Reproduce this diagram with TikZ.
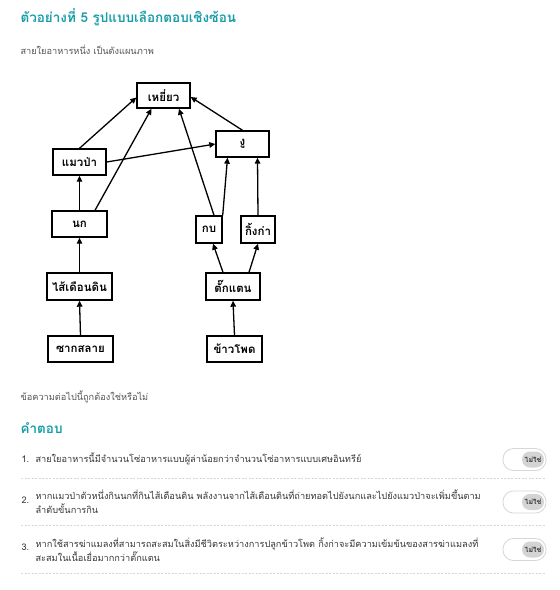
\documentclass[tikz,border=0pt]{standalone}
\usepackage{fontspec}
\setmainfont[Script=Thai]{Loma}
\usetikzlibrary{calc,arrows.meta}
\definecolor{tealhead}{RGB}{24,158,168}
\definecolor{bodygray}{RGB}{85,85,85}
\definecolor{itemgray}{RGB}{55,55,55}
\definecolor{rulegray}{RGB}{215,215,215}
\tikzset{
  web/.style={draw, line width=1.4pt, inner sep=1pt, font=\fontsize{11.5}{13}\selectfont\bfseries},
  feed/.style={line width=1.3pt, -{Triangle[length=6pt,width=5.5pt]}},
  head/.style={anchor=west, text=tealhead, font=\fontsize{13.5}{15}\selectfont\bfseries},
  body/.style={anchor=west, text=bodygray, font=\fontsize{9.2}{11}\selectfont},
  item/.style={anchor=west, align=left, text=itemgray, font=\fontsize{9.2}{14}\selectfont},
  sep/.style={rulegray, line width=0.8pt, dash pattern=on 2pt off 1.5pt},
  pill/.style={draw=rulegray, fill=white, line width=0.8pt, rounded corners=10.5pt, minimum width=43pt, minimum height=22pt},
  knob/.style={fill=black!17, rounded corners=8pt, minimum width=22pt, minimum height=16pt, inner sep=0pt,
    text=itemgray, font=\fontsize{7}{8}\selectfont\bfseries},
}
\begin{document}
\begin{tikzpicture}[x=1pt,y=-1pt]
        \useasboundingbox (0,0) rectangle (560,590);
        \fill[white] (0,0) rectangle (560,590);

        \node[head] (title) at (17,17) {ตัวอย่างที่ 5 รูปแบบเลือกตอบเชิงซ้อน};
        \node[body] (intro) at (17,50) {สายใยอาหารหนึ่ง เป็นดังแผนภาพ};

        % สายใยอาหาร
        \node[web, minimum width=53pt, minimum height=25pt] (hawk) at (163.5,95.5) {เหยี่ยว};
        \node[web, minimum width=53pt, minimum height=26pt] (snake) at (242.5,144) {งู};
        \node[web, minimum width=53pt, minimum height=26pt] (cat) at (79.5,162) {แมวป่า};
        \node[web, minimum width=55pt, minimum height=26pt] (bird) at (79.5,224) {นก};
        \node[web, minimum width=65pt, minimum height=27pt] (worm) at (79.5,286.5) {ไส้เดือนดิน};
        \node[web, minimum width=65pt, minimum height=26pt] (detritus) at (80.5,349) {ซากสลาย};
        \node[web, minimum width=26pt, minimum height=27pt] (frog) at (209,229.5) {กบ};
        \node[web, minimum width=34pt, minimum height=27pt] (lizard) at (258,229.5) {กิ้งก่า};
        \node[web, minimum width=54pt, minimum height=27pt] (hopper) at (233,286.5) {ตั๊กแตน};
        \node[web, minimum width=55pt, minimum height=26pt] (corn) at (234.5,349) {ข้าวโพด};

        \draw[feed] (detritus.north) -- (worm.south);
        \draw[feed] (worm.north) -- (bird.south);
        \draw[feed] (bird.north) -- (cat.south);
        \draw[feed] ($(bird.north)+(15.5,0)$) -- ($(hawk.south)+(-12,0)$);
        \draw[feed] (cat.north) -- ($(hawk.west)+(0,2)$);
        \draw[feed] (cat.east) -- (snake.west);
        \draw[feed] (snake.north) -- ($(hawk.east)+(0,1.5)$);
        \draw[feed] ($(frog.north)+(5,0)$) -- ($(hawk.south)+(15.5,0)$);
        \draw[feed] (frog.north east) -- ($(snake.south)+(-15,0)$);
        \draw[feed] (lizard.north) -- ($(snake.south)+(15,0)$);
        \draw[feed] ($(hopper.north)+(-10,0)$) -- ($(frog.south)+(4,0)$);
        \draw[feed] ($(hopper.north)+(16,0)$) -- (lizard.south);
        \draw[feed] (corn.north) -- (hopper.south);

        \node[body] (ask) at (17,397) {ข้อความต่อไปนี้ถูกต้องใช่หรือไม่};
        \node[head] (answer) at (17,428) {คำตอบ};

        % ข้อ 1-3
        \node[item] (n1) at (18,459) {1.};
        \node[item] (s1) at (32,459) {สายใยอาหารนี้มีจำนวนโซ่อาหารแบบผู้ล่าน้อยกว่าจำนวนโซ่อาหารแบบเศษอินทรีย์};
        \node[item] (n2) at (18,500) {2.};
        \node[item] (s2) at (32,501.3) {หากแมวป่าตัวหนึ่งกินนกที่กินไส้เดือนดิน พลังงานจากไส้เดือนดินที่ถ่ายทอดไปยังนกและไปยังแมวป่าจะเพิ่มขึ้นตาม\\ลำดับขั้นการกิน};
        \node[item] (n3) at (18,547) {3.};
        \node[item] (s3) at (32,549.2) {หากใช้สารฆ่าแมลงที่สามารถสะสมในสิ่งมีชีวิตระหว่างการปลูกข้าวโพด กิ้งก่าจะมีความเข้มข้นของสารฆ่าแมลงที่\\สะสมในเนื้อเยื่อมากกว่าตั๊กแตน};

        \draw[sep] (21,478.3) -- (546,478.3);
        \draw[sep] (21,525.7) -- (546,525.7);
        \draw[sep] (21,573.3) -- (546,573.3);

        \foreach \k/\yy in {1/459.5, 2/502, 3/549.5} {
            \node[pill] (pill\k) at (524.5,\yy) {};
            \node[knob] (knob\k) at (533,\yy) {ไม่ใช่};
        }

    \end{tikzpicture}
\end{document}
